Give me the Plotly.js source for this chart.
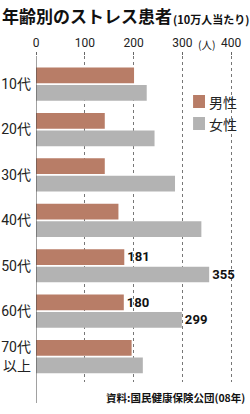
<!DOCTYPE html>
<html><head><meta charset="utf-8">
<script src="https://cdn.plot.ly/plotly-3.0.1.min.js"></script>
<style>html,body{margin:0;padding:0;background:#fff;}#chart{width:250px;height:414px;}</style>
</head><body><div id="chart"></div>
<script>
const categories = ["10代", "20代", "30代", "40代", "50代", "60代", "70代<br>以上"];
const maleValues = [201, 141, 141, 169, 181, 180, 196];
const femaleValues = [227, 243, 285, 339, 355, 299, 219];
const maleLabels = ["", "", "", "", "181", "180", ""];
const femaleLabels = ["", "", "", "", "355", "299", ""];
const seriesNames = ["男性", "女性"];
const xTicks = [0, 100, 200, 300, 400];
const colors = ["#b87d67", "#b3b3b3"];

const numFont = "'Liberation Sans Narrow', 'Roboto', 'Noto Sans CJK JP', sans-serif";
const jpFont = "'Noto Sans CJK JP', sans-serif";

const traces = [
  {type: "bar", orientation: "h", name: seriesNames[0], y: categories, x: maleValues,
   marker: {color: colors[0]}, text: maleLabels, textposition: "outside", cliponaxis: false,
   textfont: {family: numFont, size: 15, color: "#111", weight: "bold"}},
  {type: "bar", orientation: "h", name: seriesNames[1], y: categories, x: femaleValues,
   marker: {color: colors[1]}, text: femaleLabels, textposition: "outside", cliponaxis: false,
   textfont: {family: numFont, size: 15, color: "#111", weight: "bold"}}
];

const plotTop = 56, plotH = 326;
function py(p) { return 1 - (p - plotTop) / plotH; }

const layout = {
  width: 250, height: 414,
  margin: {l: 36, r: 14, t: plotTop, b: 414 - plotTop - plotH},
  paper_bgcolor: "#fff", plot_bgcolor: "#fff",
  showlegend: false,
  barmode: "group", bargap: 0.23, bargroupgap: 0.1,
  xaxis: {side: "top", range: [0, 410], tickvals: xTicks, ticktext: xTicks.map(String),
    showgrid: true, gridcolor: "#777", griddash: "dot", gridwidth: 1,
    zeroline: false, showline: false, ticks: "outside", ticklen: 3, tickcolor: "#666",
    tickfont: {family: numFont, size: 12, color: "#222"}, fixedrange: true},
  yaxis: {range: [6.56, -0.62], showgrid: false, zeroline: false, showline: false,
    ticks: "", ticklabelstandoff: 4,
    tickfont: {family: numFont, size: 14, color: "#222"}, fixedrange: true},
  shapes: [
    {type: "line", xref: "x", yref: "paper", x0: 0, x1: 0, y0: -21 / plotH, y1: 1, line: {color: "#444", width: 1}},
    {type: "rect", xref: "x", yref: "paper", x0: 322, x1: 346.5, y0: py(108), y1: py(95), fillcolor: colors[0], line: {width: 0}},
    {type: "rect", xref: "x", yref: "paper", x0: 322, x1: 346.5, y0: py(130), y1: py(117), fillcolor: colors[1], line: {width: 0}}
  ],
  annotations: [
    {xref: "paper", yref: "paper", x: -36 / 200, y: 1 + 41 / plotH, xanchor: "left", yanchor: "middle",
     text: "年齢別のストレス患者", showarrow: false,
     font: {family: jpFont, size: 17, color: "#111", weight: "bold"}},
    {xref: "paper", yref: "paper", x: 1.075, y: 1 + 37 / plotH, xanchor: "right", yanchor: "middle",
     text: "(10万人当たり)", showarrow: false,
     font: {family: jpFont, size: 11, color: "#111", weight: "bold"}},
    {xref: "x", yref: "paper", x: 350, y: 1 + 11 / plotH, xanchor: "center", yanchor: "middle",
     text: "(人)", showarrow: false, font: {family: jpFont, size: 10.5, color: "#222"}},
    {xref: "x", yref: "paper", x: 350, y: py(101.5), xanchor: "left", yanchor: "middle",
     text: seriesNames[0], showarrow: false, font: {family: jpFont, size: 14, color: "#222"}},
    {xref: "x", yref: "paper", x: 350, y: py(123.5), xanchor: "left", yanchor: "middle",
     text: seriesNames[1], showarrow: false, font: {family: jpFont, size: 14, color: "#222"}},
    {xref: "paper", yref: "paper", x: 211 / 200, y: py(397), xanchor: "right", yanchor: "middle",
     text: "資料:国民健康保険公団(08年)", showarrow: false,
     font: {family: jpFont, size: 10.5, color: "#111", weight: "bold"}}
  ]
};

Plotly.newPlot("chart", traces, layout, {displayModeBar: false, staticPlot: true});
</script>
</body></html>
